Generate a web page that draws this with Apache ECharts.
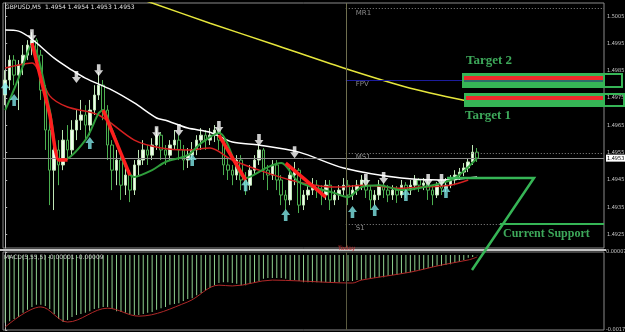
<!DOCTYPE html>
<html><head><meta charset="utf-8">
<script src="https://cdn.jsdelivr.net/npm/echarts@6/dist/echarts.min.js"></script>
<style>html,body{margin:0;padding:0;background:#000}#c{width:625px;height:332px}</style>
</head><body><div id="c"></div>
<script>
// ---- data ----
const SLOTS = 135;
const categories = Array.from({length: SLOTS}, (_, i) => 'b' + i);
const opens = [1.49761,1.49816,1.49889,1.49834,1.49871,1.49907,1.49944,1.49962,1.49907,1.49779,1.49633,1.49486,1.49560,1.49505,1.49596,1.49560,1.49633,1.49669,1.49688,1.49651,1.49706,1.49761,1.49797,1.49706,1.49578,1.49486,1.49523,1.49431,1.49468,1.49413,1.49505,1.49523,1.49560,1.49541,1.49578,1.49614,1.49560,1.49541,1.49578,1.49596,1.49560,1.49523,1.49541,1.49560,1.49596,1.49614,1.49596,1.49614,1.49633,1.49596,1.49505,1.49486,1.49468,1.49523,1.49450,1.49431,1.49486,1.49523,1.49560,1.49486,1.49468,1.49505,1.49450,1.49395,1.49377,1.49468,1.49486,1.49358,1.49395,1.49413,1.49431,1.49413,1.49395,1.49431,1.49377,1.49395,1.49413,1.49431,1.49395,1.49413,1.49431,1.49450,1.49413,1.49377,1.49395,1.49431,1.49413,1.49395,1.49413,1.49395,1.49431,1.49413,1.49431,1.49450,1.49431,1.49439,1.49413,1.49395,1.49431,1.49420,1.49431,1.49450,1.49468,1.49479,1.49494,1.49516,1.49552];
const closes = [1.49816,1.49889,1.49834,1.49871,1.49907,1.49944,1.49962,1.49907,1.49779,1.49633,1.49486,1.49560,1.49505,1.49596,1.49560,1.49633,1.49669,1.49688,1.49651,1.49706,1.49761,1.49797,1.49706,1.49578,1.49486,1.49523,1.49431,1.49468,1.49413,1.49505,1.49523,1.49560,1.49541,1.49578,1.49614,1.49560,1.49541,1.49578,1.49596,1.49560,1.49523,1.49541,1.49560,1.49596,1.49614,1.49596,1.49614,1.49633,1.49596,1.49505,1.49486,1.49468,1.49523,1.49450,1.49431,1.49486,1.49523,1.49560,1.49486,1.49468,1.49505,1.49450,1.49395,1.49377,1.49468,1.49486,1.49358,1.49395,1.49413,1.49431,1.49413,1.49395,1.49431,1.49377,1.49395,1.49413,1.49431,1.49395,1.49413,1.49431,1.49450,1.49413,1.49377,1.49395,1.49431,1.49413,1.49395,1.49413,1.49395,1.49431,1.49413,1.49431,1.49450,1.49431,1.49439,1.49413,1.49395,1.49431,1.49420,1.49431,1.49450,1.49468,1.49479,1.49494,1.49516,1.49552,1.49530];
const highs = [1.49852,1.49907,1.49907,1.49889,1.49944,1.49962,1.49991,1.49969,1.49926,1.49797,1.49669,1.49596,1.49596,1.49633,1.49651,1.49669,1.49706,1.49743,1.49724,1.49743,1.49797,1.49845,1.49816,1.49724,1.49596,1.49560,1.49541,1.49505,1.49486,1.49523,1.49560,1.49596,1.49578,1.49603,1.49640,1.49625,1.49578,1.49596,1.49633,1.49614,1.49578,1.49567,1.49589,1.49614,1.49640,1.49633,1.49640,1.49651,1.49640,1.49614,1.49530,1.49505,1.49541,1.49541,1.49479,1.49505,1.49541,1.49578,1.49567,1.49505,1.49523,1.49523,1.49468,1.49413,1.49505,1.49516,1.49494,1.49413,1.49431,1.49457,1.49450,1.49431,1.49450,1.49450,1.49413,1.49431,1.49457,1.49450,1.49431,1.49450,1.49468,1.49457,1.49431,1.49413,1.49450,1.49442,1.49431,1.49431,1.49428,1.49450,1.49442,1.49450,1.49468,1.49457,1.49457,1.49450,1.49431,1.49442,1.49450,1.49457,1.49468,1.49486,1.49494,1.49512,1.49530,1.49578,1.49567];
const lows = [1.49724,1.49779,1.49797,1.49706,1.49834,1.49889,1.49907,1.49871,1.49743,1.49560,1.49358,1.49340,1.49431,1.49486,1.49523,1.49541,1.49596,1.49633,1.49596,1.49614,1.49688,1.49743,1.49669,1.49523,1.49413,1.49431,1.49377,1.49395,1.49369,1.49395,1.49468,1.49505,1.49505,1.49523,1.49560,1.49523,1.49505,1.49523,1.49560,1.49523,1.49486,1.49494,1.49523,1.49541,1.49560,1.49560,1.49578,1.49589,1.49560,1.49468,1.49450,1.49431,1.49450,1.49413,1.49395,1.49413,1.49468,1.49505,1.49450,1.49413,1.49450,1.49413,1.49358,1.49340,1.49358,1.49431,1.49329,1.49340,1.49377,1.49395,1.49384,1.49358,1.49377,1.49340,1.49358,1.49377,1.49395,1.49358,1.49377,1.49395,1.49413,1.49384,1.49340,1.49358,1.49377,1.49384,1.49369,1.49377,1.49366,1.49384,1.49384,1.49395,1.49413,1.49406,1.49413,1.49377,1.49358,1.49384,1.49395,1.49406,1.49420,1.49431,1.49450,1.49464,1.49479,1.49505,1.49516];

// moving averages: [bar index, price]
const whiteMA = [[0,1.49999],[3,1.49995],[6,1.49966],[11,1.49896],[15,1.49852],[18,1.49823],[24,1.49779],[29,1.49732],[34,1.49677],[36,1.49669],[41,1.49640],[46,1.49625],[51,1.49589],[57,1.49578],[66,1.49552],[76,1.49494],[89,1.49457],[98,1.49450],[106,1.49461]];
const yellowMA = [[31,1.50109],[33,1.50098],[46,1.50024],[60,1.49948],[76,1.49860],[91,1.49786],[106,1.49732]];
const redMA = [[0,1.49860],[3,1.49871],[6,1.49878],[10,1.49758],[14,1.49717],[21,1.49688],[29,1.49596],[35,1.49567],[41,1.49560],[46,1.49567],[51,1.49523],[59,1.49475],[66,1.49442],[74,1.49424],[81,1.49431],[89,1.49420],[93,1.49424],[100,1.49431],[104,1.49450]];
const greenMA = [[0,1.49706],[1,1.49743],[3,1.49823],[6,1.49944],[10,1.49706],[12,1.49523],[13,1.49523],[18,1.49596],[21,1.49695],[22,1.49706],[24,1.49633],[29,1.49461],[33,1.49486],[36,1.49516],[41,1.49541],[44,1.49585],[48,1.49622],[54,1.49457],[59,1.49497],[62,1.49512],[66,1.49442],[74,1.49402],[77,1.49387],[80,1.49424],[84,1.49431],[89,1.49413],[96,1.49431],[101,1.49457],[106,1.49530]];
const redTrend = [
  [[6,1.49951],[10,1.49688],[12,1.49523],[14,1.49523]],
  [[22,1.49706],[28,1.49468]],
  [[48,1.49614],[54,1.49450]],
  [[63,1.49512],[72,1.49387]]
];
const sellArrows = [[6,1.49980],[16,1.49827],[21,1.49852],[34,1.49625],[39,1.49633],[48,1.49644],[57,1.49596],[65,1.49552],[81,1.49450],[85,1.49457],[95,1.49450],[98,1.49450]];
const buyArrows = [[0,1.49786],[2,1.49743],[19,1.49585],[42,1.49523],[54,1.49431],[63,1.49322],[78,1.49333],[83,1.49340],[90,1.49395],[99,1.49406]];

const currentPrice = 1.4953;
const pivotLevels = [['MR1',1.50079,'dotted'],['FPV',1.49816,'solid'],['MS1',1.49549,'dotted'],['S1',1.49289,'dotted']];
const todayIndex = 76.5;
const priceTicks = [1.4925,1.4935,1.4945,1.4955,1.4965,1.4975,1.4985,1.4995,1.5005];

const macdHist = [-0.00162,-0.00158,-0.00153,-0.00148,-0.00138,-0.00131,-0.00124,-0.00119,-0.00119,-0.00122,-0.00129,-0.00141,-0.00153,-0.00160,-0.00155,-0.00148,-0.00143,-0.00141,-0.00138,-0.00134,-0.00129,-0.00127,-0.00124,-0.00124,-0.00129,-0.00134,-0.00136,-0.00138,-0.00141,-0.00143,-0.00143,-0.00141,-0.00138,-0.00136,-0.00131,-0.00127,-0.00124,-0.00119,-0.00117,-0.00115,-0.00110,-0.00105,-0.00103,-0.00096,-0.00091,-0.00084,-0.00079,-0.00072,-0.00067,-0.00065,-0.00065,-0.00067,-0.00069,-0.00072,-0.00072,-0.00069,-0.00067,-0.00062,-0.00057,-0.00055,-0.00055,-0.00055,-0.00055,-0.00057,-0.00060,-0.00060,-0.00062,-0.00065,-0.00065,-0.00065,-0.00065,-0.00065,-0.00065,-0.00065,-0.00065,-0.00065,-0.00062,-0.00062,-0.00062,-0.00060,-0.00060,-0.00057,-0.00055,-0.00055,-0.00053,-0.00053,-0.00050,-0.00048,-0.00048,-0.00045,-0.00043,-0.00041,-0.00038,-0.00036,-0.00034,-0.00031,-0.00029,-0.00026,-0.00026,-0.00024,-0.00022,-0.00019,-0.00017,-0.00012,-0.00007,-0.00005,-0.00001];
const macdSignal = [[0,-0.00172],[8,-0.00124],[14,-0.00160],[23,-0.00127],[30,-0.00146],[41,-0.00112],[48,-0.00072],[51,-0.00074],[60,-0.00060],[66,-0.00062],[78,-0.00067],[80,-0.00060],[91,-0.00041],[98,-0.00024],[104,-0.00012],[106,-0.00005]];
const macdTicks = [0.00007, -0.00179];

// ---- chart ----
const chart = echarts.init(document.getElementById('c'), null, {renderer: 'canvas'});
const candleData = opens.map((o, i) => [o, closes[i], lows[i], highs[i]]);
const downArrow = 'path://M3,0L7,0L7,6L10,6L5,12L0,6L3,6Z';
const upArrow = 'path://M5,0L10,6L7,6L7,12L3,12L3,6L0,6Z';
const GREEN = '#36b556';
const TXT = '#3da85a';
const AXFONT = 'DejaVu Sans Condensed';

const levelLines = pivotLevels.map(([name, v, st]) => [
  {coord: [todayIndex, v], name: name,
   lineStyle: {color: st === 'solid' ? '#1c1c9c' : '#8a8a8a', type: st === 'solid' ? 'solid' : [1, 2], width: 1},
   label: {show: true, formatter: name, position: 'insideStartBottom', distance: [10, 1], color: '#8a8a8a', fontSize: 7, fontFamily: 'DejaVu Sans'}},
  {coord: [SLOTS - 0.5, v]}
]);
const priceLine = [
  {coord: [-0.5, currentPrice], lineStyle: {color: '#8c8c8c', type: 'solid', width: 1},
   label: {show: true, position: 'end', formatter: currentPrice.toFixed(4), backgroundColor: '#fff', color: '#000', fontSize: 5.5, fontFamily: AXFONT, padding: [1, 1, 0, 1], distance: 2}},
  {coord: [SLOTS - 0.5, currentPrice]}
];

const option = {
  backgroundColor: '#000',
  animation: false,
  grid: [
    {left: 3, top: 3, width: 601, height: 245, show: true, borderColor: '#8a8a8a', borderWidth: 1, backgroundColor: '#000', outerBoundsMode: 'none', containLabel: false},
    {left: 3, top: 252, width: 601, height: 78, show: true, borderColor: '#8a8a8a', borderWidth: 1, backgroundColor: '#000', outerBoundsMode: 'none', containLabel: false}
  ],
  xAxis: [
    {type: 'category', gridIndex: 0, data: categories, boundaryGap: true, show: false},
    {type: 'value', gridIndex: 0, min: -0.5, max: SLOTS - 0.5, show: false},
    {type: 'category', gridIndex: 1, data: categories, boundaryGap: true, show: false},
    {type: 'value', gridIndex: 1, min: -0.5, max: SLOTS - 0.5, show: false}
  ],
  yAxis: [
    {type: 'value', gridIndex: 0, position: 'right', min: 1.49201, max: 1.50098,
     axisLine: {show: true, lineStyle: {color: '#b8b8b8'}},
     axisTick: {show: true, length: 2, customValues: priceTicks, lineStyle: {color: '#b8b8b8'}},
     axisLabel: {customValues: priceTicks, formatter: v => v.toFixed(4), color: '#c8c8c8', fontSize: 5.5, fontFamily: AXFONT, margin: 3},
     splitLine: {show: false}},
    {type: 'value', gridIndex: 1, position: 'right', min: -0.00179, max: 0.00007,
     axisLine: {show: true, lineStyle: {color: '#b8b8b8'}},
     axisTick: {show: true, length: 2, customValues: macdTicks, lineStyle: {color: '#b8b8b8'}},
     axisLabel: {customValues: macdTicks, formatter: v => v.toFixed(5), color: '#c8c8c8', fontSize: 5.5, fontFamily: AXFONT, margin: 2},
     splitLine: {show: false}}
  ],
  series: [
    {type: 'line', xAxisIndex: 1, yAxisIndex: 0, data: yellowMA, smooth: 0.3, symbol: 'none', lineStyle: {color: '#e6e63c', width: 1.5}, z: 2},
    {type: 'candlestick', xAxisIndex: 0, yAxisIndex: 0, data: candleData, barWidth: 3,
     itemStyle: {color: '#f2fbef', color0: '#000', borderColor: '#bfe6b6', borderColor0: '#4caf50', borderWidth: 1},
     z: 3},
    {type: 'line', xAxisIndex: 1, yAxisIndex: 0, data: whiteMA, smooth: 0.3, symbol: 'none', lineStyle: {color: '#ffffff', width: 1.5}, z: 4,
     markLine: {silent: true, symbol: ['none', 'none'], data: levelLines.concat([priceLine,
       {xAxis: todayIndex, lineStyle: {color: '#6e6e4e', type: 'solid', width: 1}, label: {show: false}}])}},
    {type: 'line', xAxisIndex: 1, yAxisIndex: 0, data: redMA, smooth: 0.3, symbol: 'none', lineStyle: {color: '#d42020', width: 1.5}, z: 4},
    {type: 'line', xAxisIndex: 1, yAxisIndex: 0, data: greenMA, smooth: 0.3, symbol: 'none', lineStyle: {color: '#2f9e3c', width: 2}, z: 5},
    ...redTrend.map(seg => ({type: 'line', xAxisIndex: 1, yAxisIndex: 0, data: seg, smooth: 0.2, symbol: 'none', lineStyle: {color: '#ff1e1e', width: 3.5}, z: 6})),
    {type: 'scatter', xAxisIndex: 1, yAxisIndex: 0, data: sellArrows, symbol: downArrow, symbolSize: [9, 12], itemStyle: {color: '#ffffff'}, z: 8},
    {type: 'scatter', xAxisIndex: 1, yAxisIndex: 0, data: buyArrows, symbol: upArrow, symbolSize: [9, 12], itemStyle: {color: '#7fe6e6'}, z: 8},
    {type: 'bar', xAxisIndex: 2, yAxisIndex: 1, data: macdHist, barWidth: 1, itemStyle: {color: '#8fd08f'}, z: 2},
    {type: 'line', xAxisIndex: 3, yAxisIndex: 1, data: macdSignal, smooth: 0.35, symbol: 'none', lineStyle: {color: '#b02828', width: 1}, z: 3,
     markLine: {silent: true, symbol: ['none', 'none'], data: [{xAxis: todayIndex, lineStyle: {color: '#5a5a40', type: 'solid', width: 1}, label: {show: false}}]}}
  ],
  graphic: [
    {type: 'text', left: 5, top: 4, z: 50, style: {text: 'GBPUSD,M5  1.4954 1.4954 1.4953 1.4953', fill: '#e0e0e0', font: '6px "DejaVu Sans"'}},
    {type: 'text', left: 4, top: 254, z: 50, style: {text: 'MACD(5,55,5) -0.00001 -0.00009', fill: '#c8c8c8', font: '6px "DejaVu Sans"'}},
    {type: 'text', left: 338, top: 245, z: 50, style: {text: 'Today', fill: '#c83030', font: '6px "DejaVu Sans"'}},
    {type: 'rect', z: 40, shape: {x: 0, y: 249, width: 606, height: 2}, style: {fill: '#c4c4c4'}},
    // Target 2 box
    {type: 'rect', z: 60, shape: {x: 462, y: 73, width: 142, height: 15}, style: {fill: GREEN}},
    {type: 'rect', z: 61, shape: {x: 464, y: 76, width: 140, height: 4}, style: {fill: '#ee2a2a'}},
    {type: 'line', z: 61, shape: {x1: 464, y1: 81, x2: 604, y2: 81}, style: {stroke: '#23237a', lineWidth: 1}},
    {type: 'rect', z: 61, shape: {x: 604, y: 74, width: 18, height: 13}, style: {fill: 'none', stroke: GREEN, lineWidth: 2}},
    // Target 1 box
    {type: 'rect', z: 60, shape: {x: 464, y: 93, width: 140, height: 14}, style: {fill: GREEN}},
    {type: 'rect', z: 61, shape: {x: 466, y: 96, width: 138, height: 4}, style: {fill: '#ee2a2a'}},
    {type: 'rect', z: 61, shape: {x: 604, y: 94, width: 20, height: 12}, style: {fill: 'none', stroke: GREEN, lineWidth: 2}},
    {type: 'text', z: 62, left: 466, top: 54, style: {text: 'Target 2', fill: TXT, font: 'bold 13px "Liberation Serif"'}},
    {type: 'text', z: 62, left: 465, top: 109, style: {text: 'Target 1', fill: TXT, font: 'bold 13px "Liberation Serif"'}},
    // Current support
    {type: 'polyline', z: 62, shape: {points: [[447, 178], [534, 178], [472, 270]]}, style: {stroke: GREEN, lineWidth: 2.5, fill: 'none'}},
    {type: 'line', z: 62, shape: {x1: 500, y1: 224, x2: 604, y2: 224}, style: {stroke: GREEN, lineWidth: 2}},
    {type: 'text', z: 62, left: 503, top: 228, style: {text: 'Current Support', fill: TXT, font: 'bold 12px "Liberation Serif"'}}
  ]
};
chart.setOption(option);
</script>
</body></html>
